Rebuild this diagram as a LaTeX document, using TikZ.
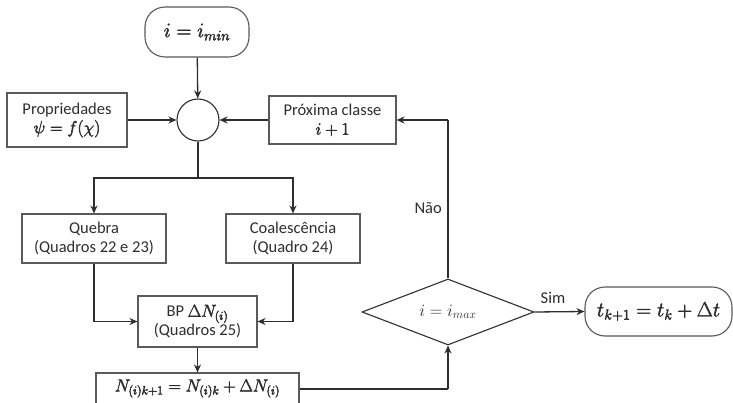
\documentclass[tikz,border=0pt]{standalone}
\usepackage{fontspec}
\setmainfont{Carlito}
\usetikzlibrary{arrows.meta,shapes.geometric}
\definecolor{ink}{HTML}{2E2E2E}
\definecolor{edge}{HTML}{5A5A5A}
% slightly heavier glyphs for the formulas (fill + thin outline)
\newcommand\heavymath[1]{\special{pdf:literal direct 2 Tr 0.45 w}#1\special{pdf:literal direct 0 Tr}}
\begin{document}
\begin{tikzpicture}[x=1pt,y=-1pt,
  every node/.style={font=\fontsize{16.5}{19}\selectfont, text=ink, align=center, inner sep=0pt},
  box/.style={draw=edge, line width=1.1pt, rectangle},
  pill/.style={draw=edge, line width=1.1pt, rectangle, rounded corners=20pt},
  junction/.style={draw=ink, line width=1.1pt, circle, minimum size=42pt},
  decision/.style={draw=ink, line width=1.1pt, diamond, aspect=2.6, minimum width=172pt, minimum height=66pt, font=\fontsize{17}{20}\selectfont},
  link/.style={draw=ink, line width=1.3pt, -{Stealth[length=8pt,width=7pt]}},
  plainlink/.style={draw=ink, line width=1.3pt}]
\useasboundingbox (0,0) rectangle (733,403);
\fill[white] (0,0) rectangle (733,403);

% process blocks
\node[pill, minimum width=104pt, minimum height=50pt, font=\fontsize{20.5}{23}\selectfont] (start) at (197,32) {\heavymath{$i = i_{min}$}};
\node[junction] (mix) at (198,120) {};
\node[box, minimum width=120pt, minimum height=54pt] (prop) at (67,120) {Propriedades\\\heavymath{\fontsize{17.5}{20}\selectfont$\psi = f(\chi)$}};
\node[box, minimum width=127pt, minimum height=48pt] (next) at (332.5,120) {Próxima classe\\\heavymath{\fontsize{17.5}{20}\selectfont$i+1$}};
\node[box, minimum width=144pt, minimum height=49pt] (break) at (94,238.5) {Quebra\\(Quadros 22 e 23)};
\node[box, minimum width=134pt, minimum height=49pt] (coal) at (293,238.5) {Coalescência\\(Quadro 24)};
\node[box, minimum width=119pt, minimum height=51pt] (bp) at (197.5,321.5) {BP \heavymath{$\Delta N_{(i)}$}\\(Quadros 25)};
\node[box, minimum width=203pt, minimum height=31pt, font=\fontsize{18}{21}\selectfont] (upd) at (197.5,388.5) {\heavymath{$N_{(i)k+1} = N_{(i)k} + \Delta N_{(i)}$}};
\node[decision] (test) at (448,312) {$i = i_{max}$};
\node[pill, minimum width=147pt, minimum height=49pt, font=\fontsize{21.5}{24}\selectfont] (stop) at (658.5,311.5) {\heavymath{$t_{k+1} = t_k + \Delta t$}};

% bends of the connectors
\coordinate (split) at (198,178);
\coordinate (loopup) at (448,120);
\coordinate (loopdown) at (448,389);

% connectors
\draw[link] (start) -- (mix);
\draw[link] (prop) -- (mix);
\draw[link] (next) -- (mix);
\draw[plainlink] (mix) -- (split);
\draw[link] (split) -| (break.north);
\draw[link] (split) -| (coal.north);
\draw[link] (break.south) |- (bp.west);
\draw[link] (coal.south) |- (bp.east);
\draw[link] (bp) -- (upd);
\draw[plainlink] (upd.east |- loopdown) -- (loopdown);
\draw[link] (loopdown) -- (test.south);
\draw[plainlink] (test.north) -- (loopup);
\draw[link] (loopup) -- (next.east);
\draw[link] (test.east) -- (stop.west);

% branch labels
\node[anchor=east] (nao) at (442,208) {Não};
\node[anchor=south] (sim) at (553,304) {Sim};
\end{tikzpicture}
\end{document}
